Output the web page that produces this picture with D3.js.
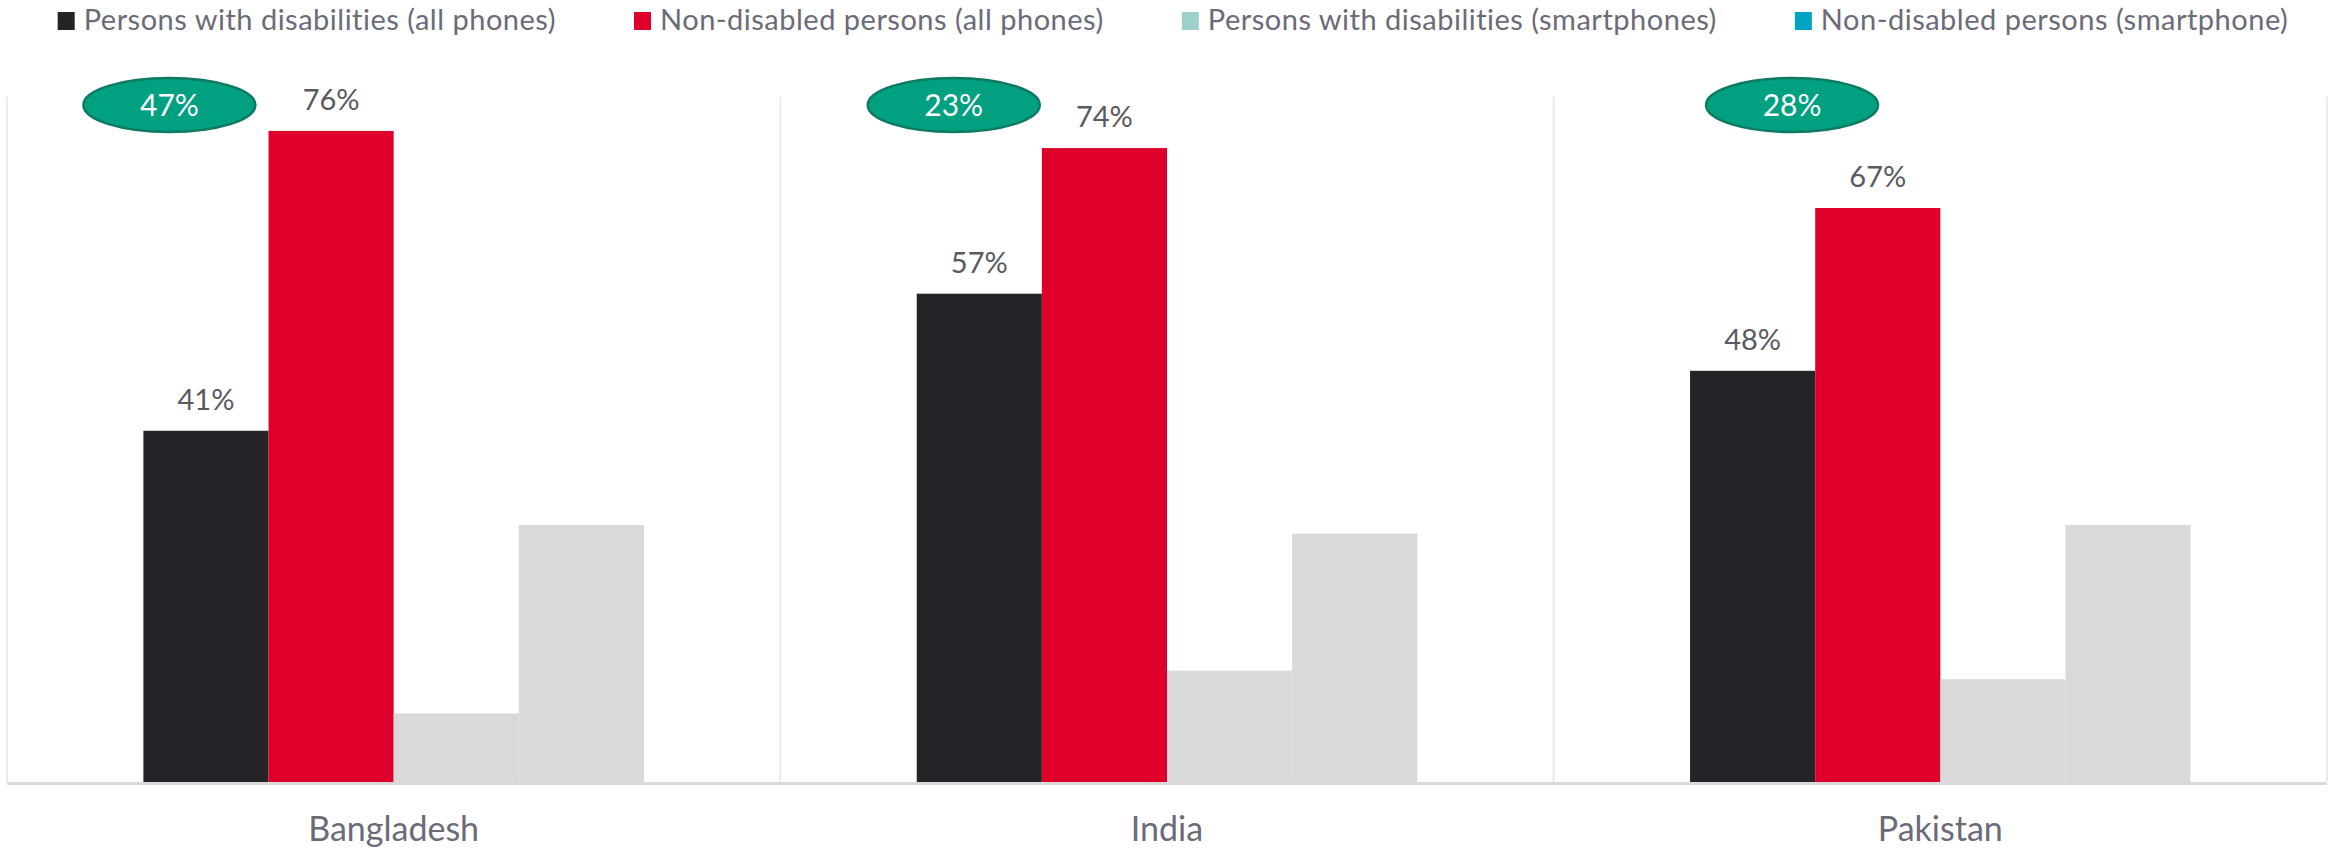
<!DOCTYPE html>
<html>
<head>
<meta charset="utf-8">
<title>Phone ownership by disability</title>
<script src="https://d3js.org/d3.v7.min.js" charset="utf-8"></script>
<style>
    html, body { margin: 0; padding: 0; background: #fff; }
    svg { display: block; font-family: Lato, "Open Sans", sans-serif; }
</style>
</head>
<body>
<div id="chart"></div>
<script>
// data
const countries = ["Bangladesh", "India", "Pakistan"];
const seriesNames = [
    "Persons with disabilities (all phones)",
    "Non-disabled persons (all phones)",
    "Persons with disabilities (smartphones)",
    "Non-disabled persons (smartphone)"
];
const disabledAll = [41, 57, 48];
const nonDisabledAll = [76, 74, 67];
const disabledSmart = [8, 13, 12];
const nonDisabledSmart = [30, 29, 30];
const gapLabels = [47, 23, 28];

// styling / layout
const legendColors = ["#242428", "#DE002B", "#9DCFCB", "#00A3C4"];
const barColors = ["#242428", "#DE002B", "#D9D9D9", "#D9D9D9"];
const labelled = [true, true, false, false];
const calloutShift = [26, 37, 102]; // ellipse centre offset from first bar's left edge

const width = 2336, height = 849;
const margin = { top: 11, left: 7, right: 9, baseline: 782 };

const values = [disabledAll, nonDisabledAll, disabledSmart, nonDisabledSmart];
const rows = [];
countries.forEach((c, i) => {
    seriesNames.forEach((s, j) => rows.push({ country: c, series: s, j: j, value: values[j][i] }));
});

const svg = d3.select("#chart").append("svg")
    .attr("width", width)
    .attr("height", height);

const x = d3.scaleBand()
    .domain(countries)
    .range([margin.left, width - margin.right])
    .padding(0);

const xInner = d3.scaleBand()
    .domain(seriesNames)
    .range([0, x.bandwidth()])
    .paddingInner(0)
    .paddingOuter(1.09);

const y = d3.scaleLinear()
    .domain([0, 90])
    .range([margin.baseline, margin.top]);

// vertical separators between categories
const seps = countries.map(c => x(c)).concat([x.range()[1]]);
svg.append("g").selectAll("line")
    .data(seps)
    .join("line")
    .attr("x1", d => d).attr("x2", d => d)
    .attr("y1", 97).attr("y2", y(0))
    .attr("stroke", "#EBEBEB")
    .attr("stroke-width", 2);

// bars
svg.append("g").selectAll("rect")
    .data(rows)
    .join("rect")
    .attr("x", d => x(d.country) + xInner(d.series))
    .attr("y", d => y(d.value))
    .attr("width", xInner.bandwidth())
    .attr("height", d => y(0) - y(d.value))
    .attr("fill", d => barColors[d.j]);

// baseline
svg.append("line")
    .attr("x1", x.range()[0]).attr("x2", x.range()[1])
    .attr("y1", y(0) + 1.5).attr("y2", y(0) + 1.5)
    .attr("stroke", "#D9D9D9")
    .attr("stroke-width", 3);

// value labels
svg.append("g").selectAll("text")
    .data(rows.filter(d => labelled[d.j]))
    .join("text")
    .attr("x", d => x(d.country) + xInner(d.series) + xInner.bandwidth() / 2)
    .attr("y", d => y(d.value) - 21)
    .attr("text-anchor", "middle")
    .attr("fill", "#595962")
    .style("font-size", "29px")
    .text(d => d.value + "%");

// category labels
svg.append("g").selectAll("text")
    .data(countries)
    .join("text")
    .attr("x", d => x(d) + x.bandwidth() / 2)
    .attr("y", 841)
    .attr("text-anchor", "middle")
    .attr("fill", "#6B6B78")
    .style("font-size", "34px")
    .text(d => d);

// gap callouts
const callouts = svg.append("g").selectAll("g")
    .data(countries)
    .join("g")
    .attr("transform", (d, i) => `translate(${x(d) + xInner(seriesNames[0]) + calloutShift[i]}, 105)`);
callouts.append("ellipse")
    .attr("rx", 86).attr("ry", 27)
    .attr("fill", "#00A080")
    .attr("stroke", "#0E7A62")
    .attr("stroke-width", 2.5);
callouts.append("text")
    .attr("y", 11)
    .attr("text-anchor", "middle")
    .attr("fill", "#fff")
    .style("font-size", "30px")
    .text((d, i) => gapLabels[i] + "%");

// legend
const legend = svg.append("g");
const items = legend.selectAll("g")
    .data(seriesNames)
    .join("g");
items.append("rect")
    .attr("y", 12).attr("width", 17).attr("height", 18)
    .attr("fill", (d, i) => legendColors[i]);
items.append("text")
    .attr("x", 26).attr("y", 30)
    .attr("fill", "#6B6B78")
    .style("font-size", "29px")
    .style("letter-spacing", "0.5px")
    .text(d => d);

let cx = 0;
const gap = 78;
items.each(function () {
    const w = 26 + d3.select(this).select("text").node().getComputedTextLength();
    d3.select(this).attr("transform", `translate(${cx},0)`);
    cx += w + gap;
});
const total = cx - gap;
legend.attr("transform", `translate(${1173 - total / 2},0)`);
</script>
</body>
</html>
